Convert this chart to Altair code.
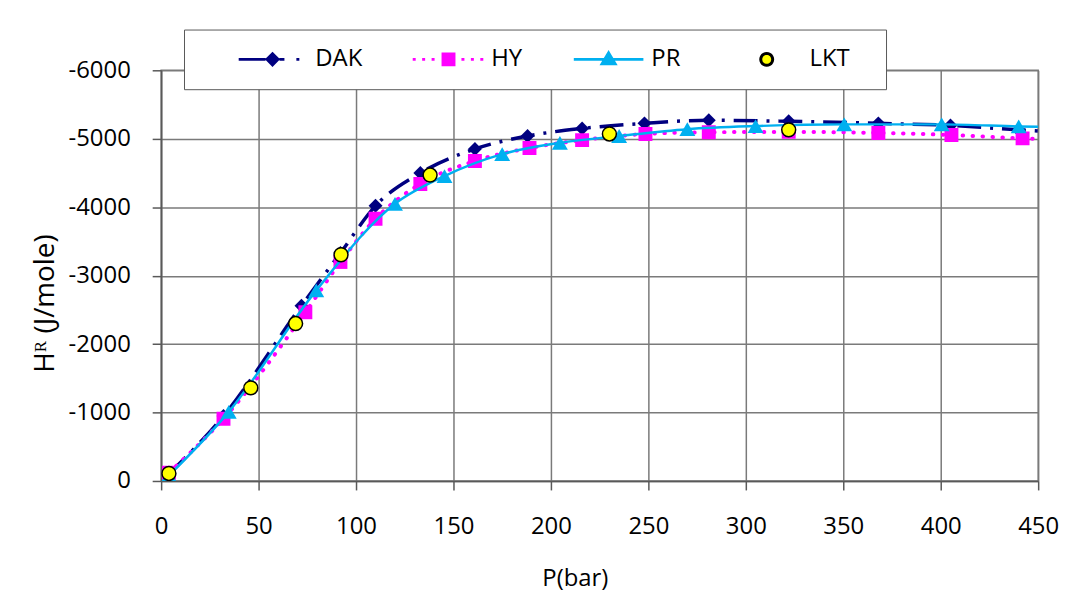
import math
import altair as alt
import pandas as pd

SERIES = ["DAK", "HY", "PR", "LKT"]

dak_p = [4, 32, 72, 92, 110, 133, 161, 188, 216, 248, 281, 322, 368, 405, 440, 475]
dak_h = [-100, -950, -2560, -3330, -4020, -4500, -4850, -5040, -5150, -5225,
         -5270, -5255, -5225, -5195, -5130, -5080]

hy_p = [4, 32, 74, 92, 110, 133, 161, 189, 216, 248.5, 281, 322, 368, 405.5, 442, 475]
hy_h = [-120, -910, -2465, -3200, -3830, -4340, -4675, -4865, -4980, -5070,
        -5095, -5100, -5085, -5055, -5005, -4980]

pr_p = [4, 34.7, 79.6, 120, 145.4, 175, 204.6, 235, 270, 305, 350.5, 400.5, 440, 475]
pr_h = [-80, -1010, -2785, -4050, -4455, -4775, -4940, -5040, -5140, -5185,
        -5210, -5210, -5180, -5160]

lkt_p = [4, 46, 69, 92.3, 138, 230, 322]
lkt_h = [-110, -1360, -2300, -3305, -4470, -5070, -5130]

x_ticks = list(range(0, 451, 50))
y_ticks = list(range(-6000, 1, 1000))

NAVY = "#000080"
MAG = "#FF00FF"
CYAN = "#00B0F0"
YEL = "#FFFF00"
FONT = "Open Sans"
GRID = "#7a7a7a"
FS = 24
BLANK = "\u2800"


def frame(name, p, h):
    return pd.DataFrame({"P": p, "H": h, "series": name})


dak_df = frame("DAK", dak_p, dak_h)
hy_df = frame("HY", hy_p, hy_h)
pr_df = frame("PR", pr_p, pr_h)
lkt_df = frame("LKT", lkt_p, lkt_h)

x_axis = alt.Axis(values=x_ticks, title="P(bar)", grid=True, tickSize=9,
                  labelPadding=25, labelFontSize=FS, titleFontSize=FS,
                  titleFontWeight="normal", labelExpr="'' + datum.value",
                  titleX=416, titleY=105, titleBaseline="alphabetic",
                  labelFlush=False)
y_axis = alt.Axis(values=y_ticks, title="Hᴿ (J/mole)", grid=True, tickSize=9,
                  labelPadding=22, labelFontSize=FS, titleFontSize=28,
                  titleFontWeight="normal", labelExpr="'' + datum.value",
                  titleX=-108, titleY=234, titleAngle=270, titleAlign="center",
                  titleBaseline="alphabetic")

xenc = alt.X("P:Q", scale=alt.Scale(domain=[0, 450], nice=False, zero=False), axis=x_axis)
yenc = alt.Y("H:Q", scale=alt.Scale(domain=[-6000, 0], reverse=True, nice=False), axis=y_axis)

dak_line = alt.Chart(dak_df).mark_line(color=NAVY, strokeWidth=3.5, strokeDash=[24, 9, 3, 9],
                                       interpolate="monotone", clip=True).encode(x=xenc, y=yenc)
dak_pts = alt.Chart(dak_df).mark_point(shape="diamond", filled=True, size=196, color=NAVY,
                                       opacity=1, clip=True).encode(x=xenc, y=yenc)
hy_line = alt.Chart(hy_df).mark_line(color=MAG, strokeWidth=4, strokeDash=[0.5, 9.5], strokeCap="round",
                                     interpolate="monotone", clip=True).encode(x=xenc, y=yenc)
hy_pts = alt.Chart(hy_df).mark_point(shape="square", filled=True, size=196, color=MAG,
                                     opacity=1, clip=True).encode(x=xenc, y=yenc)
pr_line = alt.Chart(pr_df).mark_line(color=CYAN, strokeWidth=2.5, interpolate="monotone",
                                     clip=True).encode(x=xenc, y=yenc)
pr_pts = alt.Chart(pr_df).mark_point(shape="triangle-up", filled=True, size=256, color=CYAN,
                                     opacity=1, clip=True).encode(x=xenc, y=yenc)
lkt_pts = alt.Chart(lkt_df).mark_point(shape="circle", filled=True, size=196, fill=YEL,
                                       stroke="black", strokeWidth=1.5, opacity=1,
                                       clip=True).encode(x=xenc, y=yenc)

# ---- legend glyphs (line segment + marker), drawn as custom symbol paths ----
R = 7.0
C = 59.0


def u(v):
    return f"{v / R:.4f}"


def seg(x0, x1):
    return f"M{u(x0)},0L{u(x1)},0"


def poly(pts):
    return "M" + "L".join(f"{u(x)},{u(y)}" for x, y in pts) + "Z"


dak_path = (seg(C - 34, C - 7) + poly([(C, -5.5), (C + 5.5, 0), (C, 5.5), (C - 5.5, 0)])
            + seg(C + 7, C + 12) + seg(C + 24, C + 27))
hy_path = ("".join(seg(C + d, C + d + 3) for d in (-36, -26.5, -17, 13, 22.5, 32))
           + poly([(C - 5.5, -5.5), (C + 5.5, -5.5), (C + 5.5, 5.5), (C - 5.5, 5.5)]))
pr_path = seg(C - 35, C + 35) + poly([(C, -6.5), (C + 6.5, 4.5), (C - 6.5, 4.5)])
lkt_path = poly([(C + 6 * math.cos(2 * math.pi * k / 24), 6 * math.sin(2 * math.pi * k / 24))
                 for k in range(24)])

lkt_label = "LKT" + BLANK
leg = alt.Legend(title=None, orient="none", legendX=23, legendY=-41, direction="horizontal",
                 columns=4, padding=18, strokeColor="#595959", fillColor="white",
                 labelFontSize=FS, labelFont=FONT, labelColor="black", labelOffset=90,
                 columnPadding=15, symbolSize=196, symbolOpacity=1,
                 labelExpr=f"datum.label == 'LKT' ? '{lkt_label}' : datum.label")

legend_df = pd.DataFrame({"series": SERIES})
legend_layer = alt.Chart(legend_df).mark_point(filled=True, opacity=0).encode(
    shape=alt.Shape("series:N", scale=alt.Scale(domain=SERIES,
                                                range=[dak_path, hy_path, pr_path, lkt_path]), legend=leg),
    fill=alt.Fill("series:N", scale=alt.Scale(domain=SERIES, range=[NAVY, MAG, CYAN, YEL]), legend=leg),
    stroke=alt.Stroke("series:N", scale=alt.Scale(domain=SERIES, range=[NAVY, MAG, CYAN, "black"]),
                      legend=leg),
    strokeWidth=alt.StrokeWidth("series:N", scale=alt.Scale(domain=SERIES, range=[3, 3, 2.5, 1.5]),
                                legend=leg),
)

chart = alt.layer(
    dak_line, dak_pts, hy_line, hy_pts, pr_line, pr_pts, lkt_pts, legend_layer
).properties(
    width=882, height=413,
    padding={"left": 154, "top": 61, "right": 30, "bottom": 112},
    autosize=alt.AutoSizeParams(type="none"),
).configure(font=FONT).configure_view(
    stroke=GRID, strokeWidth=1.5
).configure_axis(
    gridColor=GRID, gridWidth=1.5, gridOpacity=1,
    domainColor="#595959", domainWidth=1.5,
    tickColor="#595959", tickWidth=1.5,
    labelColor="black", titleColor="black", labelFont=FONT, titleFont=FONT,
)

chart.save("out.html", embed_options={"renderer": "svg", "actions": False})
